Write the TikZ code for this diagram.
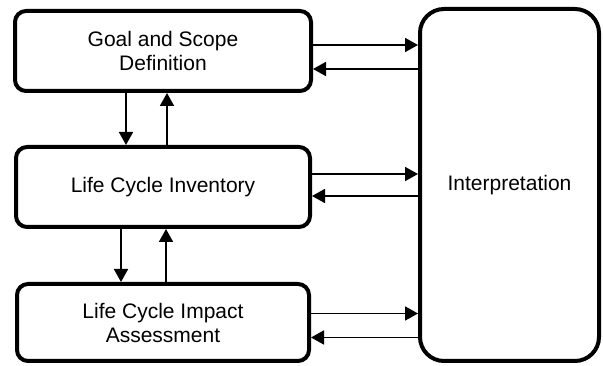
\documentclass[tikz,border=0pt]{standalone}
\usepackage{fontspec}
\setmainfont{Liberation Sans}
\usetikzlibrary{arrows.meta,positioning}

\begin{document}
\begin{tikzpicture}[x=1pt,y=-1pt,
    every node/.style={draw,rectangle,rounded corners=11pt,line width=4pt,
      align=center,inner sep=0pt,font=\fontsize{21}{24}\selectfont},
    flow/.style={line width=1.8pt,-{Triangle[length=13pt,width=14pt]}}]
    \useasboundingbox (0,0) rectangle (603,366);
    \node [minimum width=296pt,minimum height=80pt] (goal) at (163,51)
    {Goal and Scope\\Definition}; \node [below=52pt of goal, minimum
    width=294pt,minimum height=80pt] (lci) {Life Cycle Inventory}; \node
    [below=53pt of lci, minimum width=292pt,minimum height=77pt] (lcia)
    {Life Cycle Impact\\Assessment}; \node [rounded corners=24pt, minimum
    width=179pt,minimum height=352pt] (interp) at (509.5,185)
    {Interpretation};

    \draw [flow] ([xshift=-37pt]goal.south) -- ([xshift=-37pt]lci.north);
    \draw [flow] ([xshift=4pt]lci.north) -- ([xshift=4pt]goal.south);
    \draw [flow] ([xshift=-42pt]lci.south) -- ([xshift=-42pt]lcia.north);
    \draw [flow] ([xshift=3pt]lcia.north) -- ([xshift=3pt]lci.south);

    \draw [flow] ([yshift=6pt]goal.east) -- ([yshift=6pt]goal.east -| interp.west);
    \draw [flow] ([yshift=-18pt]goal.east -| interp.west) -- ([yshift=-18pt]goal.east);
    \draw [flow] ([yshift=13pt]lci.east) -- ([yshift=13pt]lci.east -| interp.west);
    \draw [flow] ([yshift=-9pt]lci.east -| interp.west) -- ([yshift=-9pt]lci.east);
    \draw [flow] ([yshift=9pt]lcia.east) -- ([yshift=9pt]lcia.east -| interp.west);
    \draw [flow] ([yshift=-15pt]lcia.east -| interp.west) -- ([yshift=-15pt]lcia.east);
  \end{tikzpicture}
\end{document}
